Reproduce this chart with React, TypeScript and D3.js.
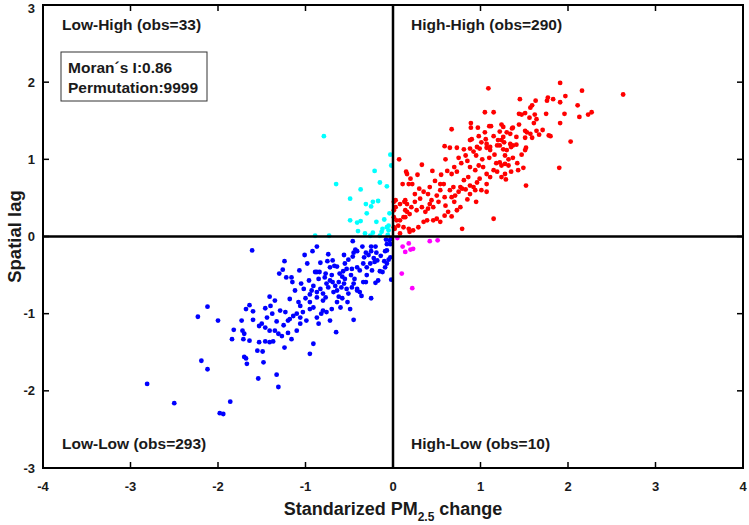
import React from "react";
import * as d3 from "d3";

type P = [number, number];

const highHigh: P[] = [
  [1.91,1.99],[2.16,1.89],[2.63,1.84],[1.97,1.82],[1.77,1.80],[1.83,1.78],[1.76,1.76],[1.91,1.74],[2.11,1.70],[1.45,1.78],
  [1.63,1.76],[1.57,1.67],[1.59,1.70],[1.75,1.59],[1.96,1.59],[2.27,1.61],[2.23,1.58],[2.13,1.55],[1.44,1.59],[1.47,1.58],
  [1.51,1.60],[1.62,1.58],[1.56,1.54],[1.64,1.52],[1.61,1.47],[1.91,1.47],[1.44,1.45],[1.24,1.45],[1.26,1.42],[1.36,1.40],
  [1.37,1.41],[1.34,1.33],[1.30,1.35],[1.51,1.37],[1.53,1.35],[1.64,1.37],[1.71,1.38],[1.57,1.33],[1.67,1.32],[1.78,1.31],
  [1.80,1.30],[1.51,1.28],[1.59,1.28],[2.03,1.23],[1.26,1.29],[1.24,1.25],[1.27,1.22],[1.34,1.20],[1.37,1.18],[1.41,1.19],
  [1.35,1.16],[1.52,1.15],[1.51,1.12],[1.26,1.13],[1.30,1.12],[1.37,1.02],[1.47,1.06],[1.22,0.96],[1.24,0.92],[1.28,0.94],
  [1.32,0.92],[1.42,0.95],[1.49,0.89],[1.43,0.86],[1.35,0.84],[1.90,0.89],[1.28,0.81],[1.29,0.74],[1.24,0.77],[1.52,0.66],
  [1.09,1.92],[1.05,1.61],[1.15,1.61],[0.89,1.47],[0.89,1.41],[0.97,1.41],[0.67,1.39],[1.10,1.43],[1.12,1.43],[1.22,1.36],
  [0.90,1.26],[0.88,1.25],[1.06,1.26],[1.01,1.22],[1.22,1.18],[1.41,1.29],[0.59,1.17],[0.65,1.15],[0.73,1.15],[0.81,1.13],
  [0.88,1.14],[0.99,1.14],[1.07,1.15],[1.11,1.12],[1.19,1.18],[0.96,1.16],[1.07,1.20],[1.11,1.16],
  [0.07,1.00],[0.33,0.93],[0.15,0.84],[0.16,0.81],[0.20,0.75],[0.11,0.68],[0.22,0.68],[0.01,0.45],[0.13,0.45],[0.16,0.42],
  [0.25,0.45],[0.31,0.49],[0.35,0.58],[0.42,0.64],[0.40,0.55],[0.44,0.47],[0.46,0.38],[0.54,0.68],[0.58,0.68],[0.59,0.51],
  [0.65,0.60],[0.67,0.51],[0.71,0.53],[0.75,0.58],[0.79,0.62],[0.83,0.61],[0.88,0.55],[0.94,0.60],[1.01,0.60],[1.07,0.58],
  [0.67,0.81],[0.73,0.84],[0.81,0.73],[0.86,0.77],[0.88,0.90],[0.94,0.86],[0.98,0.92],[1.03,0.90],[1.07,0.81],[1.11,0.77],
  [1.15,0.86],[1.19,0.84],[1.15,0.23],[0.79,0.10],[0.67,0.26],[1.07,0.68],[0.96,0.70],[0.99,0.75],[0.88,0.66],[0.92,0.64],
  [0.77,0.64],[0.69,0.64],[0.54,0.60],[0.50,0.53],[0.42,0.42],[0.40,0.36],[0.37,0.32],[0.33,0.38],[0.27,0.34],[0.21,0.38],
  [0.19,0.29],[0.16,0.32],[0.14,0.25],[0.08,0.21],[0.06,0.14],[0.12,0.12],[0.18,0.10],[0.23,0.08],[0.19,0.06],[0.29,0.12],
  [0.35,0.19],[0.39,0.21],[0.46,0.21],[0.50,0.23],[0.54,0.19],[0.59,0.27],[0.63,0.32],[0.73,0.34],[0.77,0.38],[0.08,0.42],
  [0.03,0.38],[0.01,0.34],[0.01,0.25],[0.02,0.10],[0.01,0.12],[0.18,0.68],[0.03,0.47],[0.14,0.47],[0.14,0.34],[0.12,0.25],
  [0.04,0.21],[0.08,0.04],
  [0.95,1.05],[1.02,1.00],[1.10,1.02],[1.16,1.06],[1.18,0.95],[0.85,0.98],[0.78,0.95],[0.70,0.90],[0.62,0.85],[0.55,0.80],
  [0.48,0.72],[0.45,0.85],[0.60,1.00],[0.75,1.02],[1.05,1.35],[1.15,1.30],[1.20,1.25],[0.98,1.30],[0.92,1.10],[0.83,1.05],
  [1.28,1.05],[1.32,1.00],[0.30,0.62],[0.25,0.55],[0.28,0.80],[0.52,0.45],[0.60,0.40],[0.70,0.45],[0.85,0.48],[0.95,0.45],
];

const lowLow: P[] = [
  [-2.12,-0.91],[-2.23,-1.04],[-2.00,-1.09],[-1.64,-0.89],[-1.68,-0.94],[-1.60,-0.97],[-1.73,-1.09],[-1.60,-1.08],[-1.82,-1.21],[-1.72,-1.22],
  [-1.70,-1.26],[-1.84,-1.33],[-1.71,-1.33],[-1.64,-1.35],[-1.53,-1.16],[-1.53,-1.37],[-1.55,-1.48],[-1.70,-1.56],[-1.68,-1.58],[-1.67,-1.65],
  [-2.19,-1.61],[-2.12,-1.72],[-1.54,-1.84],[-2.81,-1.91],[-2.50,-2.16],[-1.86,-2.14],[-1.98,-2.29],[-1.94,-2.30],
  [-1.46,-1.36],[-1.41,-1.37],[-1.37,-1.36],[-1.24,-1.44],[-0.91,-1.39],[-1.49,-1.49],[-0.95,-1.52],[-1.48,-1.63],[-1.33,-1.79],[-1.31,-1.95],
  [-1.61,-0.18],[-0.46,-0.06],[-0.87,-0.13],[-0.35,-0.13],[-0.25,-0.13],[-0.20,-0.13],[-0.43,-0.17],[-0.41,-0.19],[-0.92,-0.19],[-1.01,-0.24],
  [-0.74,-0.23],[-0.56,-0.24],[-0.51,-0.30],[-0.46,-0.26],[-0.45,-0.21],[-0.31,-0.21],[-0.28,-0.24],[-0.25,-0.19],[-0.22,-0.28],[-0.19,-0.21],
  [-0.18,-0.31],[-0.09,-0.19],[-0.07,-0.10],[-0.04,-0.05],[-0.03,-0.10],[-0.10,-0.32],[-0.05,-0.30],[-0.15,-0.45],[-1.24,-0.32],[-1.30,-0.48],
  [-1.22,-0.53],[-1.16,-0.53],[-1.07,-0.44],[-0.98,-0.35],[-0.83,-0.34],[-0.78,-0.53],[-0.77,-0.48],[-0.72,-0.40],[-0.69,-0.31],[-0.67,-0.38],
  [-0.64,-0.39],[-0.89,-0.46],[-0.87,-0.46],[-0.61,-0.48],[-0.57,-0.45],[-0.53,-0.42],[-0.47,-0.42],[-0.41,-0.40],[-0.38,-0.44],[-0.34,-0.35],
  [-0.30,-0.40],[-0.26,-0.35],[-0.24,-0.44],[-0.21,-0.33],[-0.12,-0.46],[-0.07,-0.35],[-0.17,-0.57],[-0.02,-0.56],[-0.34,-0.59],[-0.31,-0.59],
  [-1.05,-0.61],[-1.02,-0.68],[-0.96,-0.57],[-0.91,-0.64],[-0.93,-0.70],[-0.87,-0.72],[-0.83,-0.68],[-0.80,-0.74],[-0.77,-0.79],[-0.76,-0.61],
  [-0.74,-0.66],[-0.72,-0.57],[-0.69,-0.59],[-0.66,-0.64],[-0.64,-0.70],[-0.62,-0.59],[-0.59,-0.66],[-0.56,-0.61],[-0.53,-0.68],[-0.51,-0.74],
  [-0.47,-0.66],[-0.45,-0.61],[-0.41,-0.68],[-0.38,-0.72],[-0.25,-0.80],[-0.45,-1.08],[-0.65,-1.24],[-1.41,-0.78],[-1.35,-0.83],[-1.46,-0.93],
  [-1.44,-1.05],[-1.50,-1.13],[-1.46,-1.18],[-1.41,-1.22],[-1.35,-1.22],[-1.31,-1.26],[-1.27,-1.29],[-1.29,-0.96],[-1.23,-0.98],[-1.20,-1.09],
  [-1.18,-1.07],[-1.14,-1.03],[-1.10,-1.00],[-1.06,-1.05],[-1.03,-0.98],[-0.99,-1.09],[-0.95,-0.94],[-0.91,-0.92],[-0.87,-1.05],[-0.85,-1.13],
  [-0.80,-0.96],[-0.76,-0.98],[-0.72,-1.09],[-1.16,-1.33],[-1.10,-1.22],[-1.06,-1.13],
  [-1.26,-0.43],[-1.15,-0.59],[-0.84,-0.46],[-0.75,-0.32],[-0.41,-0.70],[-0.36,-0.77],[-0.49,-0.94],[-0.64,-0.85],[-0.70,-0.94],[-0.80,-0.83],
  [-0.87,-0.79],[-0.95,-0.85],[-1.06,-0.90],[-1.18,-0.81],[-0.82,-1.00],
  [-0.58,-0.52],[-0.55,-0.55],[-0.62,-0.78],[-0.70,-0.50],[-0.48,-0.50],[-0.44,-0.55],[-0.68,-0.72],[-0.58,-0.80],[-0.52,-0.85],[-0.85,-0.55],
  [-0.95,-0.75],[-1.00,-0.80],[-1.12,-0.70],[-1.08,-0.85],[-0.60,-0.92],[-0.30,-0.50],[-0.20,-0.60],[-0.14,-0.25],[-0.33,-0.27],[-0.55,-0.35],
  [-1.38,-1.00],[-1.33,-1.10],[-1.25,-1.15],[-1.20,-1.25],[-1.40,-0.90],
  [-0.02,-0.03],[-0.08,-0.04],[-0.07,-0.18],[-0.03,-0.27],[-0.09,-0.40],
];

const lowHigh: P[] = [
  [-0.79,1.30],[-0.03,1.06],[-0.21,0.85],[-0.15,0.70],[-0.07,0.65],[-0.65,0.68],[-0.37,0.61],[-0.49,0.49],[-0.23,0.45],[-0.17,0.46],
  [-0.31,0.42],[-0.25,0.39],[-0.30,0.30],[-0.49,0.21],[-0.41,0.18],[-0.37,0.20],[-0.19,0.19],[-0.40,0.07],[-0.32,0.04],[-0.13,0.06],
  [-0.07,0.12],[-0.05,0.14],[-0.05,0.08],[-0.89,0.01],[-0.73,0.01],[-0.26,0.01],[-0.15,0.01],[-0.23,0.05],[-0.12,0.10],[-0.06,0.02],
  [-0.02,0.92],[-0.04,0.30],[-0.10,0.22],
];

const highLow: P[] = [
  [0.11,-0.13],[0.18,-0.09],[0.20,-0.17],[0.23,-0.16],[0.14,-0.20],[0.42,-0.06],[0.51,-0.05],[0.10,-0.48],[0.22,-0.67],[0.05,-0.02],
];

const xTicks = [-4, -3, -2, -1, 0, 1, 2, 3, 4];
const yTicks = [-3, -2, -1, 0, 1, 2, 3];

const quadrantLabels = [
  { text: "Low-High (obs=33)", x: -4, y: 3, pos: "top" },
  { text: "High-High (obs=290)", x: 0, y: 3, pos: "top" },
  { text: "Low-Low (obs=293)", x: -4, y: -3, pos: "bottom" },
  { text: "High-Low (obs=10)", x: 0, y: -3, pos: "bottom" },
];

const statLines = ["Moran\u00B4s I:0.86", "Permutation:9999"];

const groups: { data: P[]; color: string }[] = [
  { data: lowHigh, color: "#00ffff" },
  { data: highLow, color: "#ff00ff" },
  { data: lowLow, color: "#0000ff" },
  { data: highHigh, color: "#ff0000" },
];

export default function App() {
  const W = 749, H = 525;
  const L = 43, R = 743, T = 5, B = 468;
  const x = d3.scaleLinear().domain([-4, 4]).range([L, R]);
  const y = d3.scaleLinear().domain([-3, 3]).range([B, T]);
  const font = "'Liberation Sans', Arial, sans-serif";
  const tl = 6;
  const ink = "#1a1a1a";
  return (
    <svg width={W} height={H} style={{ position: "absolute", left: 0, top: 0, background: "#fff" }} fontFamily={font} fontWeight="bold">
      <rect x={0} y={0} width={W} height={H} fill="#fff" />
      {groups.map((g, gi) => (
        <g key={gi} fill={g.color}>
          {g.data.map((p, i) => (
            <circle key={i} cx={x(p[0])} cy={y(p[1])} r={2.4} />
          ))}
        </g>
      ))}
      <line x1={x(0)} x2={x(0)} y1={T} y2={B} stroke="#000" strokeWidth={2.5} />
      <line x1={L} x2={R} y1={y(0)} y2={y(0)} stroke="#000" strokeWidth={2.5} />
      <rect x={L} y={T} width={R - L} height={B - T} fill="none" stroke="#000" strokeWidth={2} />
      {xTicks.map((t) => (
        <g key={"x" + t}>
          <line x1={x(t)} x2={x(t)} y1={B} y2={B - tl} stroke="#000" strokeWidth={1.5} />
          <line x1={x(t)} x2={x(t)} y1={T} y2={T + tl} stroke="#000" strokeWidth={1.5} />
          <text x={x(t)} y={491} textAnchor="middle" fontSize={13} fill={ink}>{t}</text>
        </g>
      ))}
      {yTicks.map((t) => (
        <g key={"y" + t}>
          <line x1={L} x2={L + tl} y1={y(t)} y2={y(t)} stroke="#000" strokeWidth={1.5} />
          <line x1={R} x2={R - tl} y1={y(t)} y2={y(t)} stroke="#000" strokeWidth={1.5} />
          <text x={35} y={Math.max(y(t) + 4.5, 13)} textAnchor="end" fontSize={13} fill={ink}>{t}</text>
        </g>
      ))}
      {quadrantLabels.map((q) => (
        <text key={q.text} x={x(q.x) + (q.x === -4 ? 19 : 18)} y={q.pos === "top" ? y(q.y) + 25 : y(q.y) - 19} fontSize={15.5} fill={ink}>
          {q.text}
        </text>
      ))}
      <rect x={61} y={52} width={146} height={49} fill="#fff" stroke="#333" strokeWidth={1} />
      {statLines.map((s, i) => (
        <text key={s} x={68} y={73 + i * 20} fontSize={15.5} fill={ink}>{s}</text>
      ))}
      <text x={(L + R) / 2} y={515} textAnchor="middle" fontSize={18} fill={ink}>
        Standarized PM<tspan fontSize={12} dy={6}>2.5</tspan><tspan dy={-6}> change</tspan>
      </text>
      <text transform={`translate(21,${y(0)}) rotate(-90)`} textAnchor="middle" fontSize={18.5} fill={ink}>Spatial lag</text>
    </svg>
  );
}
